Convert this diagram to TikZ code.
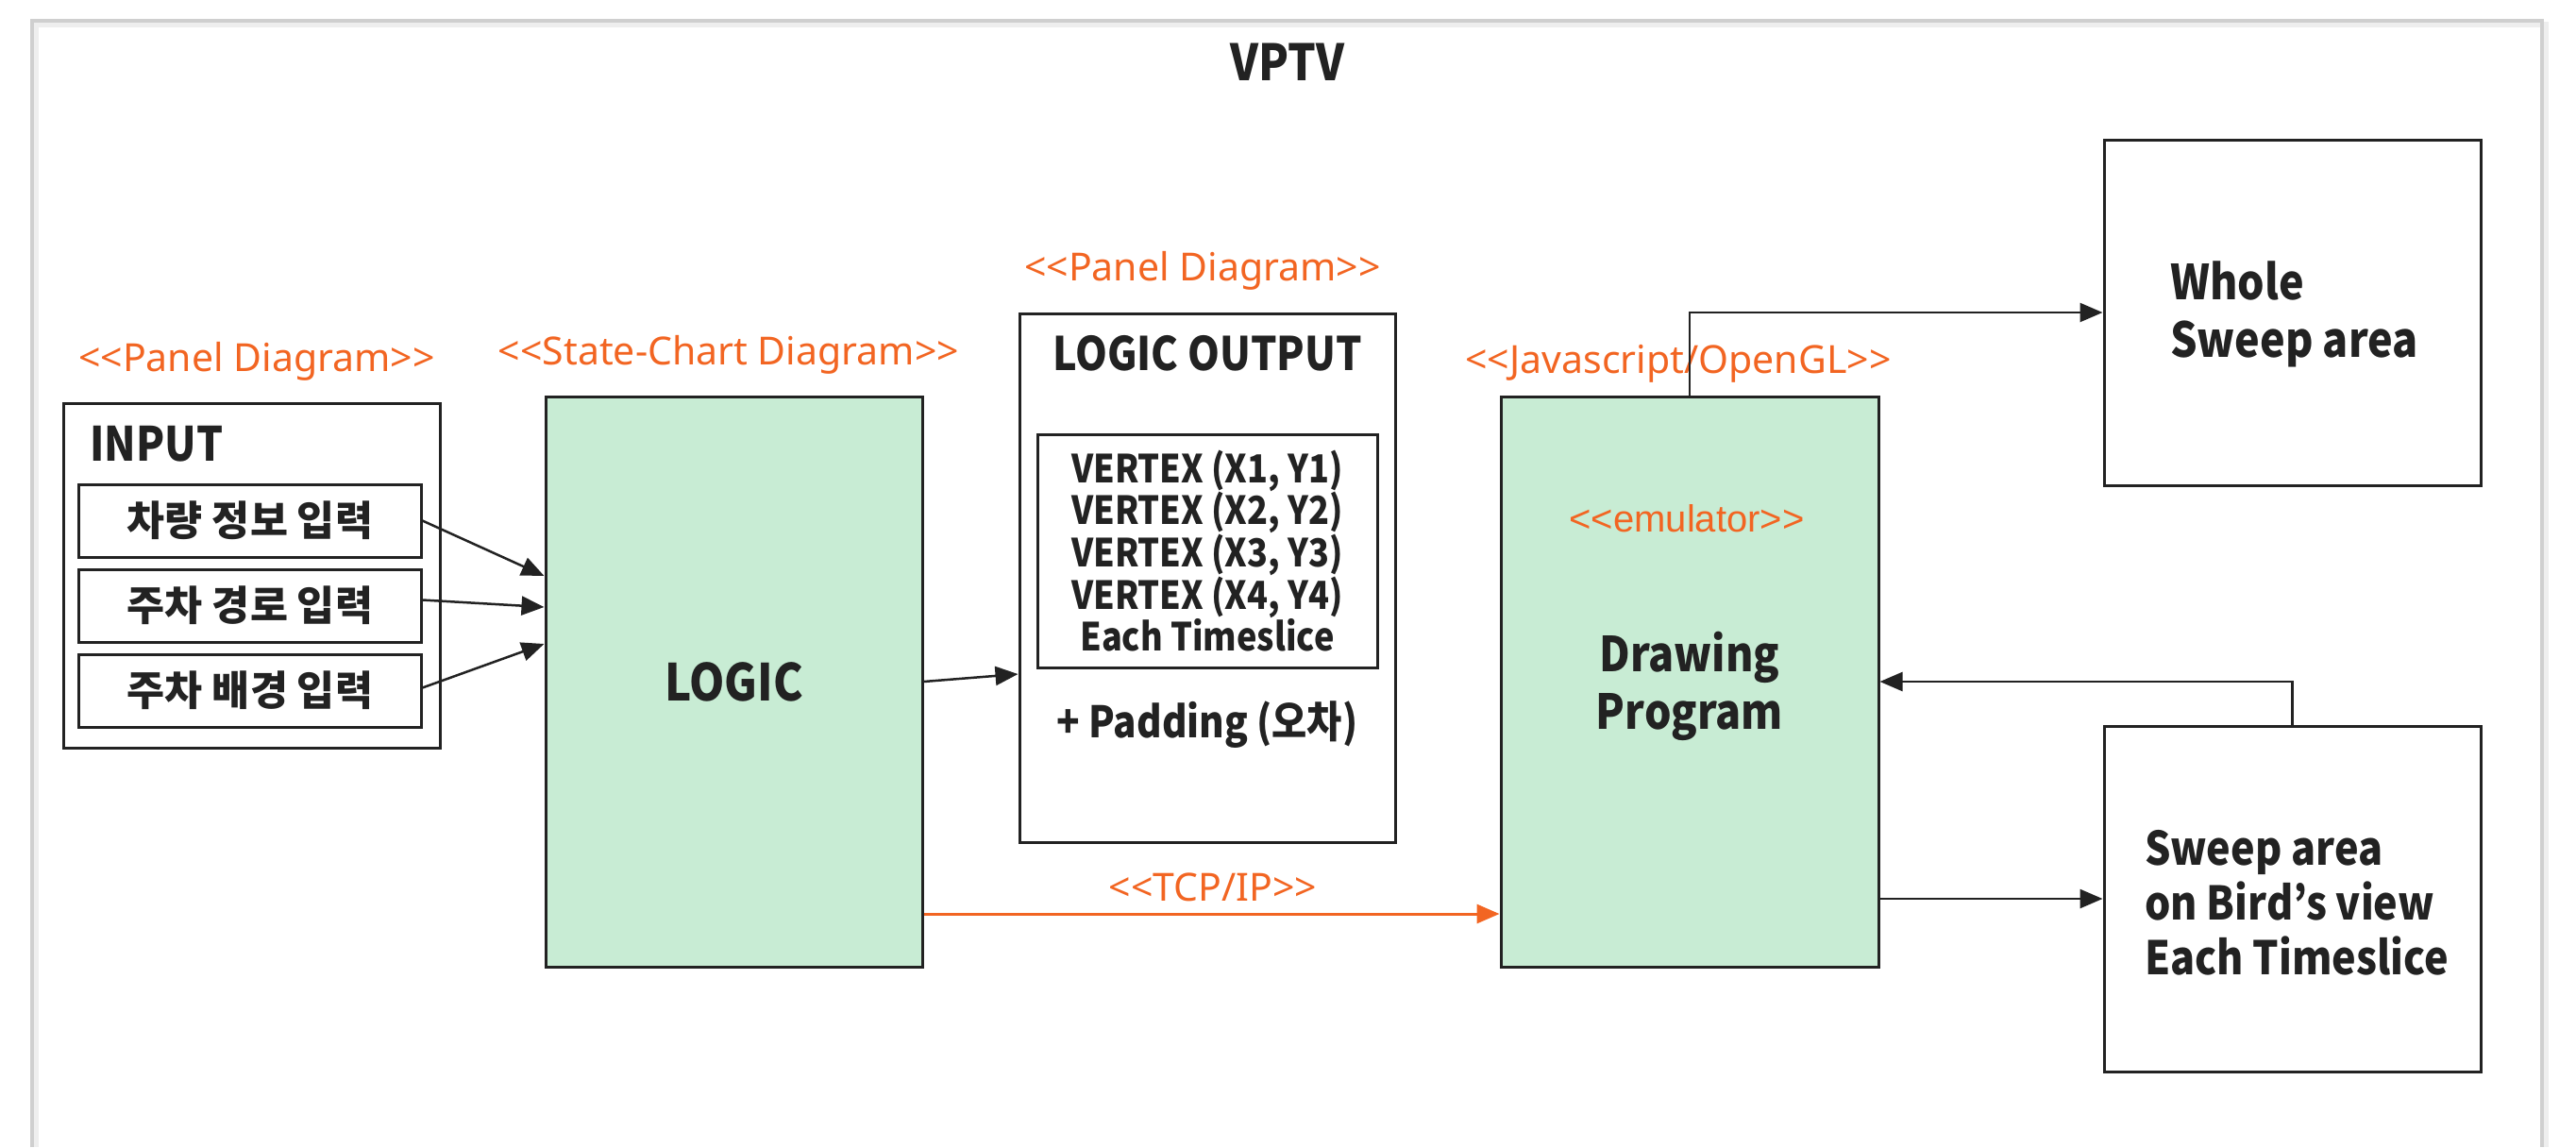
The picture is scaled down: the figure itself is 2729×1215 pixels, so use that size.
\documentclass[tikz,border=0pt]{standalone}
\usepackage{fontspec}
\setmainfont{Noto Sans CJK KR}[Ligatures=TeXOff]
\newfontfamily\bkf{Noto Sans CJK KR}[Ligatures=TeXOff, FakeStretch=0.88]
\newfontfamily\krf{Noto Sans CJK KR}[Ligatures=TeXOff]
\newfontfamily\orf{Noto Sans}[Ligatures=TeXOff]
\newfontfamily\arialf{Liberation Sans}[Ligatures=TeXOff]
\usetikzlibrary{arrows.meta,calc}
\definecolor{grn}{HTML}{C8ECD4}
\definecolor{org}{HTML}{F26522}
\definecolor{ink}{HTML}{222222}
\definecolor{frm}{HTML}{CFCFCF}
\definecolor{frmshadow}{HTML}{EEEEEE}
\newcommand\pxsize[2]{\fontsize{#1bp}{#2bp}\selectfont}
\begin{document}
\begin{tikzpicture}[x=1bp,y=-1bp,
  box/.style={draw=ink, line width=3bp, inner sep=0pt, text=ink},
  gbox/.style={box, fill=grn},
  orlbl/.style={inner sep=0pt, text=org, font=\orf\pxsize{41}{50}},
  bk/.style={inner sep=0pt, text=ink, font=\bkf\bfseries\pxsize{48}{61}},
  kr/.style={box, minimum width=362bp, minimum height=77bp, font=\krf\bfseries\pxsize{43.5}{50}},
  arr/.style={draw=ink, line width=2.5bp, -{Triangle[length=24bp,width=20bp]}},
  oarr/.style={draw=org, line width=3bp, -{Triangle[length=24bp,width=20bp]}}]
\useasboundingbox (0,0) rectangle (2729,1215);
% frame
\draw[frmshadow, line width=6bp] (38,1215) -- (38,26) -- (2697,26) -- (2697,1215);
\draw[frm, line width=4bp] (34,1215) -- (34,22) -- (2693,22) -- (2693,1215);
\node[bk, font=\bkf\bfseries\pxsize{53}{60}] (title) at (1364,66) {VPTV};

% INPUT panel
\node[orlbl] (lblin) at (272,383) {<<Panel Diagram>>};
\node[box, minimum width=398bp, minimum height=365bp] (INP) at (267,609.5) {};
\node[bk, anchor=west, font=\bkf\bfseries\pxsize{50}{60}] (inptxt) at (95,470) {INPUT};
\node[kr] (in1) at (265,551.5) {차량 정보 입력};
\node[kr] (in2) at (265,641.5) {주차 경로 입력};
\node[kr] (in3) at (265,731.5) {주차 배경 입력};

% LOGIC
\node[orlbl] (lbllogic) at (772,376) {<<State-Chart Diagram>>};
\node[gbox, minimum width=399bp, minimum height=604bp, font=\bkf\bfseries\pxsize{54}{60}] (LOGIC) at (777.5,722) {LOGIC};

% LOGIC OUTPUT
\node[orlbl] (lblout) at (1274,287) {<<Panel Diagram>>};
\node[box, minimum width=398bp, minimum height=560bp] (OUT) at (1279,612) {};
\node[bk, font=\bkf\bfseries\pxsize{49}{60}] (outtxt) at (1279,374) {LOGIC OUTPUT};
\node[box, minimum width=360bp, minimum height=247bp, align=center, font=\bkf\bfseries\pxsize{41}{43}] (VERT) at (1279,583.5)
  {VERTEX (X1, Y1)\\VERTEX (X2, Y2)\\VERTEX (X3, Y3)\\VERTEX (X4, Y4)\\Each Timeslice};
\node[bk, font=\bkf\bfseries\pxsize{46}{50}] (pad) at (1279,768) {+ Padding (오차)};

% Drawing program
\node[orlbl] (lbldraw) at (1778,385) {<<Javascript/OpenGL>>};
\node[gbox, minimum width=400bp, minimum height=604bp] (DRAW) at (1790,722) {};
\node[inner sep=0pt, text=org, font=\arialf\pxsize{40}{48}] (emu) at (1787,549) {<<emulator>>};
\node[bk, align=center, font=\bkf\bfseries\pxsize{51}{61}] (drawtxt) at (1790,726.5) {Drawing\\Program};

% Right boxes
\node[box, minimum width=399bp, minimum height=366bp] (WHOLE) at (2428.5,331) {};
\node[bk, align=left, anchor=west, font=\bkf\bfseries\pxsize{51}{61}] (wholetxt) at (2299,332.5) {Whole\\Sweep area};
\node[box, minimum width=399bp, minimum height=366bp] (SWEEP) at (2428.5,952) {};
\node[bk, align=left, anchor=west, font=\bkf\bfseries\pxsize{49}{58}] (sweeptxt) at (2272,956) {Sweep area\\on Bird’s view\\Each Timeslice};

% connectors
\coordinate (l1) at ($(LOGIC.west)+(0,-112)$);
\coordinate (l2) at ($(LOGIC.west)+(0,-79)$);
\coordinate (l3) at ($(LOGIC.west)+(0,-40)$);
\draw[arr] (in1.east) -- (l1);
\draw[arr] ($(in2.east)+(0,-6)$) -- (l2);
\draw[arr] ($(in3.east)+(0,-3)$) -- (l3);
\coordinate (o1) at ($(OUT.west)+(0,102)$);
\draw[arr] (LOGIC.east) -- (o1);
\coordinate (t1) at ($(LOGIC.east)+(0,246)$);
\coordinate (t2) at ($(DRAW.west)+(0,246)$);
\draw[oarr] (t1) -- (t2);
\node[orlbl] (lbltcp) at (1285,940) {<<TCP/IP>>};
\draw[arr] (DRAW.north) |- (WHOLE.west);
\draw[arr] (SWEEP.north) |- (DRAW.east);
\coordinate (s1) at (DRAW.east |- SWEEP.west);
\draw[arr] (s1) -- (SWEEP.west);
\end{tikzpicture}
\end{document}
